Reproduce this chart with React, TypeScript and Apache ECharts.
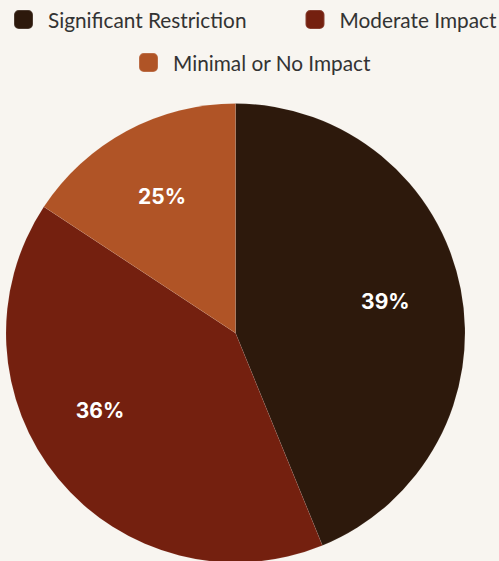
import React, { useEffect, useRef } from "react";
import * as echarts from "echarts";

const categories = ["Significant Restriction", "Moderate Impact", "Minimal or No Impact"];
const sliceValues = [39, 36, 14];
const labelTexts = ["39%", "36%", "25%"];
const colors = ["#2d190c", "#74200f", "#b05426"];

const legendText = {
  fontFamily: "Lato",
  fontSize: 20.8,
  color: "#333333",
  padding: [0, 0, 0, 10],
};

export default function App() {
  const ref = useRef<HTMLDivElement>(null);
  useEffect(() => {
    document.body.style.margin = "0";
    const chart = echarts.init(ref.current!, null, { renderer: "svg" });
    const data = categories.map((name, i) => ({
      name,
      value: sliceValues[i],
      itemStyle: { color: colors[i] },
    }));
    const legendBase = {
      orient: "horizontal",
      padding: 0,
      itemWidth: 19,
      itemHeight: 19,
      itemGap: 58,
      icon: "roundRect",
      textStyle: legendText,
      selectedMode: false,
    };
    chart.setOption({
      animation: false,
      backgroundColor: "#f8f5f0",
      legend: [
        { ...legendBase, left: 13, top: 9, data: categories.slice(0, 2) },
        { ...legendBase, left: 138, top: 52, data: categories.slice(2) },
      ],
      series: [
        {
          type: "pie",
          center: [235.5, 333],
          radius: [0, 229.5],
          startAngle: 90,
          clockwise: true,
          silent: true,
          label: { show: false },
          labelLine: { show: false },
          itemStyle: { borderColor: "rgba(255,255,255,0.15)", borderWidth: 0.5 },
          data,
        },
        {
          type: "pie",
          center: [235.5, 333],
          radius: [74, 229.5],
          startAngle: 90,
          clockwise: true,
          silent: true,
          legendHoverLink: false,
          itemStyle: { color: "transparent" },
          labelLine: { show: false },
          label: {
            show: true,
            position: "inside",
            color: "#ffffff",
            fontFamily: "Inter",
            fontWeight: "bold",
            fontSize: 21,
            formatter: (p: any) => labelTexts[p.dataIndex],
          },
          data: categories.map((name, i) => ({
            name,
            value: sliceValues[i],
            label: i === 1 ? { offset: [-16, -21] } : i === 0 ? { offset: [-2, -2] } : undefined,
          })),
        },
      ],
    });
    return () => chart.dispose();
  }, []);
  return <div ref={ref} style={{ width: 499, height: 561 }} />;
}
